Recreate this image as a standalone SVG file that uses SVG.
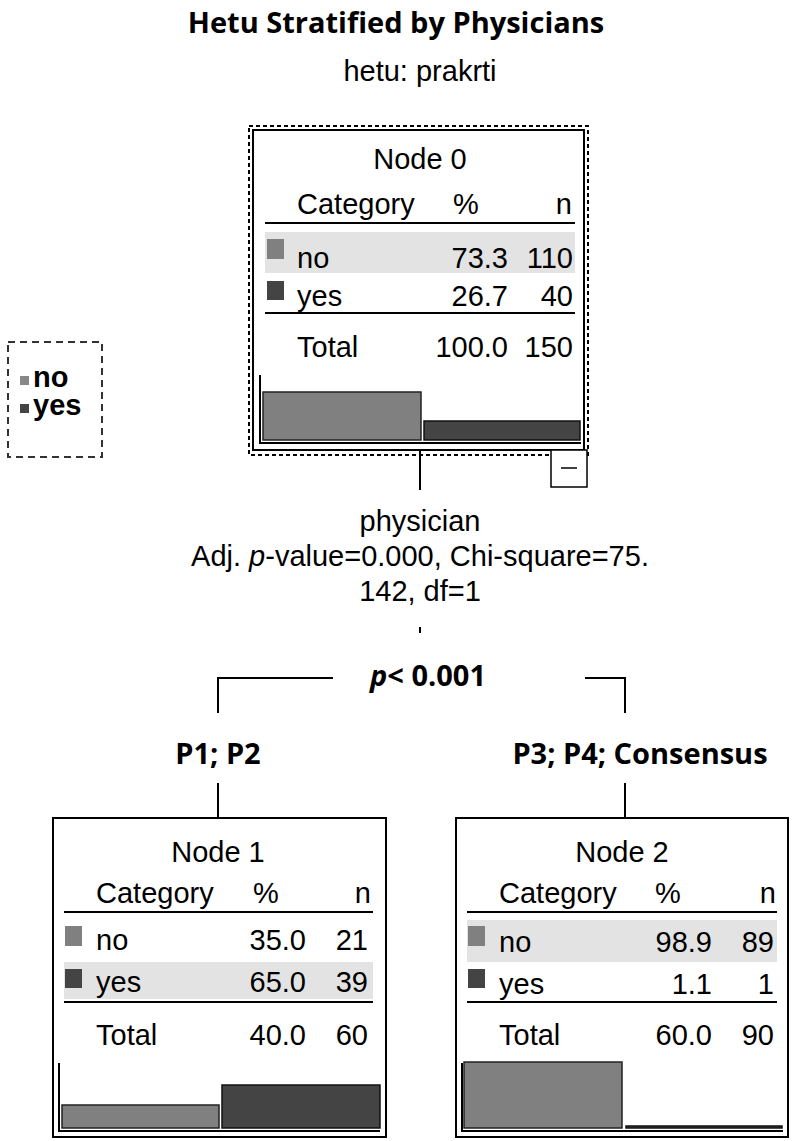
<svg xmlns="http://www.w3.org/2000/svg" width="792" height="1141" viewBox="0 0 792 1141">
<style>
text{font-family:"Liberation Sans",Arial,sans-serif;font-size:29px;fill:#000}
.c{text-anchor:middle}.r{text-anchor:end}
.b{font-family:"Open Sans","Liberation Sans",sans-serif;font-weight:bold}
.box{fill:#fff;stroke:#000;stroke-width:2}
.ln{stroke:#000;stroke-width:2;fill:none}
.band{fill:#e3e3e3}
.no{fill:#808080;stroke:#222;stroke-width:1.5}
.yes{fill:#444;stroke:#111;stroke-width:1.5}
</style>
<rect width="792" height="1141" fill="#fff"/>
<text class="c b" x="396" y="33" font-size="34">Hetu Stratified by Physicians</text>
<text class="c" x="420" y="81" font-size="24">hetu: prakrti</text>

<g id="legend">
<rect x="8" y="342" width="94" height="115" fill="none" stroke="#333" stroke-width="2" stroke-dasharray="7,5"/>
<rect x="20" y="376" width="9" height="9" fill="#888"/>
<text x="33" y="387" font-size="22" font-weight="bold" fill="#555">no</text>
<rect x="20" y="404" width="9" height="9" fill="#444"/>
<text x="33" y="415" font-size="22" font-weight="bold" fill="#555">yes</text>
</g>

<g id="connectors">
<line class="ln" x1="420" y1="450" x2="420" y2="490"/>
<line class="ln" x1="420" y1="627" x2="420" y2="633" stroke-width="1"/>
<polyline class="ln" points="333,678 218,678 218,713"/>
<polyline class="ln" points="585,678 625,678 625,713"/>
<line class="ln" x1="218" y1="783" x2="218" y2="818"/>
<line class="ln" x1="625" y1="783" x2="625" y2="818"/>
</g>
<g id="split">
<text class="c" x="420" y="531">physician</text>
<text class="c" x="420" y="566" font-size="27">Adj. <tspan font-style="italic">p</tspan>-value=0.000, Chi-square=75.</text>
<text class="c" x="420" y="601" font-size="27">142, df=1</text>
<text class="c b" x="428" y="686" font-size="32"><tspan font-style="italic">p</tspan>&lt; 0.001</text>
<text class="c b" x="218" y="764" font-size="32">P1; P2</text>
<text class="c b" x="640" y="764" font-size="32">P3; P4; Consensus</text>
</g>

<g id="node0">
<rect x="249" y="126" width="339" height="329" fill="none" stroke="#000" stroke-width="2" stroke-dasharray="4,3"/>
<rect class="box" x="253" y="130" width="331" height="320" stroke-width="3"/>
<text class="c" x="420" y="169">Node 0</text>
<text x="297" y="214">Category</text><text class="c" x="466" y="214">%</text><text class="r" x="572" y="214">n</text>
<line class="ln" x1="265" y1="223" x2="575" y2="223"/>
<rect class="band" x="265" y="232" width="310" height="41"/>
<rect x="267" y="239" width="17" height="20" fill="#808080"/>
<text x="297" y="268">no</text><text class="r" x="508" y="268">73.3</text><text class="r" x="573" y="268">110</text>
<rect x="267" y="281" width="17" height="19" fill="#444"/>
<text x="297" y="306">yes</text><text class="r" x="508" y="306">26.7</text><text class="r" x="573" y="306">40</text>
<line class="ln" x1="265" y1="313" x2="575" y2="313"/>
<text x="297" y="357">Total</text><text class="r" x="508" y="357">100.0</text><text class="r" x="573" y="357">150</text>
<polyline class="ln" points="260,375 260,443 581,443" stroke-width="1.5"/>
<rect class="no" x="263" y="392" width="158" height="48"/>
<rect class="yes" x="424" y="421" width="156" height="19"/>
<rect x="551" y="450" width="36" height="37" fill="#fff" stroke="#000" stroke-width="1.5"/>
<line x1="561" y1="468" x2="577" y2="468" stroke="#000" stroke-width="1.5"/>
</g>

<g id="node1">
<rect class="box" x="53" y="818" width="333" height="319"/>
<text class="c" x="218" y="862">Node 1</text>
<text x="96" y="903">Category</text><text class="c" x="266" y="903">%</text><text class="r" x="371" y="903">n</text>
<line class="ln" x1="64" y1="912" x2="373" y2="912"/>
<rect x="65" y="926" width="17" height="20" fill="#808080"/>
<text x="96" y="950">no</text><text class="r" x="306" y="950">35.0</text><text class="r" x="368" y="950">21</text>
<rect class="band" x="64" y="962" width="309" height="37"/>
<rect x="65" y="969" width="17" height="19" fill="#444"/>
<text x="96" y="992">yes</text><text class="r" x="306" y="992">65.0</text><text class="r" x="368" y="992">39</text>
<line class="ln" x1="64" y1="1002" x2="373" y2="1002"/>
<text x="96" y="1045">Total</text><text class="r" x="306" y="1045">40.0</text><text class="r" x="368" y="1045">60</text>
<polyline class="ln" points="59,1063 59,1131 380,1131" stroke-width="1.5"/>
<rect class="no" x="62" y="1105" width="157" height="23"/>
<rect class="yes" x="222" y="1085" width="158" height="43"/>
</g>

<g id="node2">
<rect class="box" x="456" y="818" width="332" height="319"/>
<text class="c" x="622" y="862">Node 2</text>
<text x="499" y="903">Category</text><text class="c" x="668" y="903">%</text><text class="r" x="776" y="903">n</text>
<line class="ln" x1="467" y1="912" x2="777" y2="912"/>
<rect class="band" x="467" y="920" width="310" height="42"/>
<rect x="468" y="926" width="17" height="20" fill="#808080"/>
<text x="499" y="952">no</text><text class="r" x="712" y="952">98.9</text><text class="r" x="774" y="952">89</text>
<rect x="468" y="969" width="17" height="19" fill="#444"/>
<text x="499" y="994">yes</text><text class="r" x="712" y="994">1.1</text><text class="r" x="774" y="994">1</text>
<line class="ln" x1="467" y1="1002" x2="777" y2="1002"/>
<text x="499" y="1045">Total</text><text class="r" x="712" y="1045">60.0</text><text class="r" x="774" y="1045">90</text>
<polyline class="ln" points="462,1063 462,1131 783,1131" stroke-width="1.5"/>
<rect class="no" x="464" y="1062" width="158" height="66"/>
<rect class="yes" x="626" y="1126" width="156" height="2"/>
</g>
</svg>
